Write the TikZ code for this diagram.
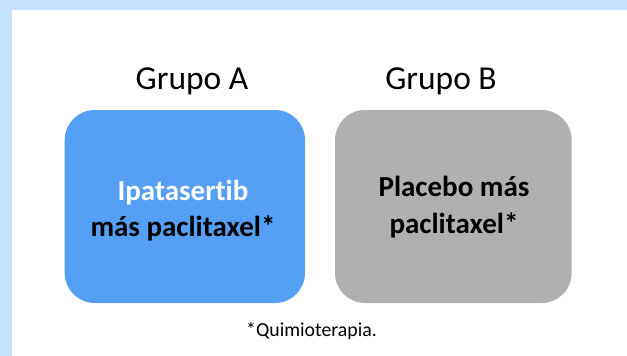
\documentclass[tikz,border=0pt]{standalone}
\usepackage{fontspec}
\setmainfont[Ligatures={NoCommon}]{Carlito}
\definecolor{framebg}{HTML}{C4E1FF}
\definecolor{boxblue}{HTML}{55A0F4}
\definecolor{boxgray}{HTML}{B0B0B0}
\begin{document}
\begin{tikzpicture}[x=1pt,y=-1pt,
  grp/.style={anchor=base,font=\fontsize{33.5}{40}\selectfont},
  armbox/.style={rounded corners=30pt,draw=none},
  armtext/.style={align=center,font=\fontsize{29}{36}\selectfont\bfseries},
  capt/.style={anchor=base,font=\fontsize{19.8}{24}\selectfont}]
\useasboundingbox (0,0) rectangle (627,356);
\fill[framebg] (0,0) rectangle (627,356);
\fill[white] (12,10) rectangle (627,356);
\node[grp] (ga) at (192,89) {Grupo A};
\node[grp] (gb) at (441,89) {Grupo B};
\fill[boxblue,armbox] (64.7,110) rectangle (305,303);
\fill[boxgray,armbox] (335,110) rectangle (571.7,303);
\node[armtext,anchor=base] (ta1) at (183,200) {\textcolor{white}{Ipatasertib}};
\node[armtext,anchor=base] (ta2) at (183,236.7) {más paclitaxel*};
\node[armtext,anchor=base] (tb1) at (454,196.7) {Placebo más};
\node[armtext,anchor=base] (tb2) at (454,233) {paclitaxel*};
\node[capt] (cap) at (311.5,336.5) {*Quimioterapia.};
\end{tikzpicture}
\end{document}
